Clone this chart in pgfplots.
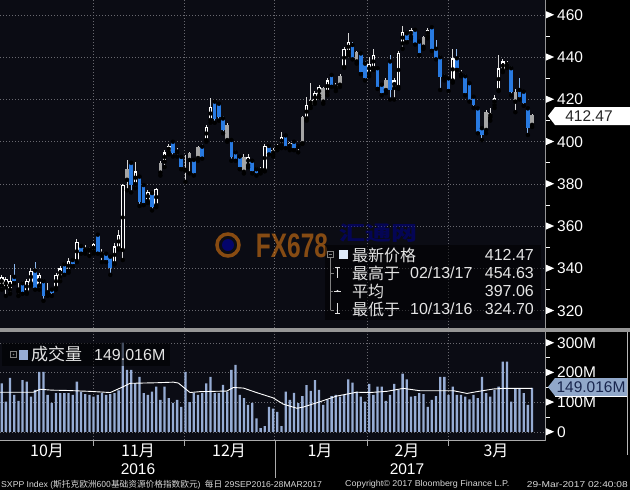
\documentclass[border=0pt]{standalone}
\usepackage{pgfplots}
\pgfplotsset{compat=1.18}
\usepackage{pgfplotstable}
\usepackage{fontspec}
\setmainfont{Liberation Sans}
\newfontfamily\cjk{Noto Sans CJK SC}
\definecolor{panelbg}{RGB}{11,12,20}
\definecolor{cblue}{RGB}{40,122,225}
\definecolor{cgray}{RGB}{165,165,165}
\definecolor{wick}{RGB}{215,215,215}
\definecolor{volbar}{RGB}{150,172,212}
\definecolor{gridc}{RGB}{105,105,112}
\definecolor{txt}{RGB}{228,228,228}
\definecolor{sepc}{RGB}{150,150,150}
\definecolor{tagblue}{RGB}{145,168,202}
\definecolor{tagtext}{RGB}{25,38,78}
\newcommand{\tri}{\tikz[baseline=-0.36em]\fill[white] (0,3.5pt)--(8pt,0)--(0,-3.5pt)--cycle;}

% candles: x = trading day index, o h l c
\pgfplotstableread{
x o h l c
0 332 337 330 336
1 331 336 327 335
2 330 337 328 334
4 329 333 327 331
6 329 335 328 334
7 333 340 332 339
9 332 338 330 337
11 328 333 327 329.5
13 331 338 330 337
14 336 341 334 340
16 339 345 338 343.6
18 343.6 354 343 352.6
20 348.5 351 347 349.5
21 348.5 350 346 349.5
22 348 352 347 351.5
24 346 349 343 348
27 342.5 352 342 350.5
28 349.6 358 349 356
29 348.8 380 344 379.5
32 380 390.6 378 386
35 372 377 371 376.4
37 370 378 369 377.6
39 390.6 396 388 395
40 395.3 399 394 398
42 395 397 393 395.8
44 386.4 393.7 381 387
49 400.8 408 400 407
50 410.3 420.7 409 416.4
59 389 394 388 393
62 386 388 385 387
63 386.6 399 386 398
65 394 397 393 396
66 397 399 396 398
67 398.5 404.8 397 402.4
69 397 400 396 399.5
71 397.5 399 395 398.5
73 411.1 421 410 417.4
74 417.4 427.8 416 419.8
75 419 424 418 423
76 422 427 421 426
78 423.7 430 422 429
80 425.3 428 424 427
82 435.5 445 435 444
83 442.6 451.5 441 447.4
88 432.5 440 431 437
89 435 444 434 441
94 425.5 430 420 429
95 426 443 425 442
96 446.6 454.63 444 452
98 450 454 449 453
102 450 454 449 453
106 430.5 432 429 431.5
108 429 444 428 439.5
110 431.6 434 431 433
117 411.7 416 410 413.6
118 417.4 422 416 420.6
119 424.5 441 424 434.8
120 434 439 433 438
121 436 438 435 437.5
}\W
\pgfplotstableread{
x o h l c
30 382 391.5 377 387
38 385.4 391 384 390
45 391.4 395 385 394.6
47 392.3 398 391 397.7
54 400.8 409 400 408
58 385.8 394 385 393
72 399.3 412 399 411.9
77 419 426 418 425.5
81 427 432 426 431
85 438 443 437 442.6
92 424.5 430 423 429
101 445 450 444 449.7
116 405.6 415 404 414.2
123 419 425 414 423.7
127 408 413 407 412.47
}\G
\pgfplotstableread{
x o h l c
3 336 342 333 334
5 333 334 328 329
8 339 343 330 331
10 334 335 324.7 327
12 330 331 327 328.5
15 342 343 337 338
17 344 345 341 342
19 350.6 351 347 347.7
23 356 357 347 348
25 347 348 343 344
26 345.6 346 337 340
31 390 391 376 379.5
33 383.5 384 369.6 371.6
34 379.5 380 370 371
36 375.7 376 367.5 369
41 400 401 393 394.5
43 392.8 393 387 388
46 391.4 392 384 385
48 397.7 399 392 393
51 419 419.5 409 411
52 418 418.5 410 411.6
53 411 412 404 405.6
55 400.8 401 391 392.8
56 395 396 391 392
57 393 393.5 387 388.2
60 391 392 385 386
61 387 388 384 385
64 398 399 394 394.5
68 403 403.5 397 397.7
70 400 401 396 397
79 431.6 432 426 427
84 445.8 447 439 439.5
86 441.8 442 432 433
87 437 438 429 430
90 434.8 435 425 426
91 427 428 422 423
93 438 441 420 424.5
97 451.3 452 447 448
99 453 454 446 446.6
100 447.4 448 441 441.9
103 454.2 454.4 443 444
104 444 448 439 439.5
105 440 441 424.5 430.8
107 430 431 424 425
109 439.5 444 434 434.8
111 431 432 422 423
112 427.7 428 419 419.8
113 421.3 422 416 417.4
114 415.8 416 404 404.8
115 406.4 407 400.8 403.2
122 434.8 436 422 423.7
124 424.5 430 420 421.3
125 423.7 424 417 418.2
126 415.8 416 403.2 406.4
}\B
% volume in millions
\pgfplotstableread{
x v
0 164
1 102
2 182
3 125
4 105
5 175
6 170
7 119
8 142
9 203
10 203
11 125
12 98
13 131
14 131
15 131
16 131
17 125
18 170
19 136
20 128
21 125
22 119
23 125
24 131
25 125
26 128
27 131
28 140
29 300
30 209
31 209
32 165
33 186
34 131
35 125
36 136
37 153
38 108
39 153
40 114
41 98
42 108
43 85
44 203
45 101
46 131
47 125
48 131
49 164
50 186
51 131
52 131
53 159
54 136
55 209
56 226
57 125
58 114
59 91
60 98
61 46
62 13
63 20
64 85
65 79
66 68
67 20
68 136
69 108
70 132
71 97
72 121
73 158
74 139
75 175
76 142
77 91
78 110
79 121
80 125
81 119
82 125
83 177
84 166
85 136
86 119
87 102
88 162
89 125
90 153
91 153
92 105
93 125
94 162
95 142
96 197
97 177
98 119
99 121
100 131
101 128
102 85
103 108
104 121
105 186
106 186
107 125
108 153
109 125
110 125
111 119
112 110
113 125
114 114
115 186
116 131
117 119
118 142
119 153
120 237
121 237
122 102
123 147
124 147
125 131
126 91
127 149
}\V

\pgfplotsset{
  wickp/.style={only marks, mark=none, forget plot,
    error bars/.cd, y dir=plus, y explicit, error mark=none,
    error bar style={color=#1, line width=0.9pt, line cap=butt}},
  bodyp/.style 2 args={only marks, mark=none, forget plot,
    error bars/.cd, y dir=both, y explicit, error mark=none,
    error bar style={color=#1, line width=#2, line cap=butt}},
  panel/.style={scale only axis, width=545pt, xmin=-0.41, xmax=130.1,
    axis background/.style={fill=panelbg},
    axis line style={draw=none},
    xtick={21.86,43.65,65.2,87.5,106.9}, xticklabel={},
    xmajorgrids, ymajorgrids,
    grid style={gridc, line width=0.6pt, dash pattern=on 1pt off 2pt},
    major tick length=0pt, minor tick length=5pt, tick align=outside,
    ytick pos=right, xtick pos=bottom, yticklabel pos=right,
    minor y tick style={white, line width=0.8pt},
    yticklabel style={anchor=west, inner sep=0pt, xshift=1pt, text=white,
      font=\fontsize{15.5}{16}\selectfont},
    /pgf/number format/assume math mode=true,
    clip=true},
}

\begin{document}
\begin{tikzpicture}
\fill[black] (0pt,0pt) rectangle (630pt,-490pt);

% ---------------- price panel ----------------
\begin{axis}[panel, at={(0pt,0pt)}, anchor=north west, height=328pt,
  ymin=311.83, ymax=467.1,
  ytick={320,340,...,460}, minor ytick={330,350,...,450},
  yticklabel={\tri\hspace{3pt}\pgfmathprintnumber{\tick}}]
% wicks
\addplot[wickp=wick] table[x=x, y=l, y error plus expr=\thisrow{h}-\thisrow{l}] {\W};
\addplot[wickp=wick] table[x=x, y=l, y error plus expr=\thisrow{h}-\thisrow{l}] {\G};
\addplot[wickp=cblue!55!white] table[x=x, y=l, y error plus expr=\thisrow{h}-\thisrow{l}] {\B};
% bodies
\addplot[bodyp={white}{3.6pt}] table[x=x, y=o,
  y error plus expr={max(\thisrow{c}-\thisrow{o},0)},
  y error minus expr={max(\thisrow{o}-\thisrow{c},0)}] {\W};
\addplot[bodyp={panelbg}{1.5pt}] table[x=x,
  y expr={(\thisrow{o}+\thisrow{c})/2},
  y error expr={max(abs(\thisrow{c}-\thisrow{o})/2-0.6,0)}] {\W};
\addplot[bodyp={cgray}{3.6pt}] table[x=x, y=o,
  y error plus expr={max(\thisrow{c}-\thisrow{o},0)},
  y error minus expr={max(\thisrow{o}-\thisrow{c},0)}] {\G};
\addplot[bodyp={cblue}{3.6pt}] table[x=x, y=o,
  y error plus expr={max(\thisrow{c}-\thisrow{o},0)},
  y error minus expr={max(\thisrow{o}-\thisrow{c},0)}] {\B};
\end{axis}

% ---------------- volume panel ----------------
\begin{axis}[panel, at={(0pt,-332pt)}, anchor=north west, height=108pt,
  ymin=-27, ymax=337,
  ytick={0,100,200,300}, minor ytick={50,150,250},
  yticklabels={{\tri\hspace{3pt}0},{\tri\hspace{3pt}100M},{\tri\hspace{3pt}200M},{\tri\hspace{3pt}300M}}]
\addplot[ybar, bar width=2.3pt, fill=volbar, draw=none, forget plot] table[x=x, y=v] {\V};
\addplot[white, line width=0.9pt, forget plot] coordinates {
(-0.4,134) (7.6,134) (9.2,144) (12,141) (15.6,140) (21,137) (26,133) (27.1,140)
(29,152) (30.7,164) (37.1,166) (41.1,168) (42.3,165) (43.6,150) (45.1,133)
(47.5,136) (53.9,138) (55.5,150) (57.9,148) (61,133) (65,115) (67.4,94)
(70.7,80) (72.2,84) (76.2,102) (80.2,121) (85,134) (88.2,133) (92.2,137)
(96.2,147) (100.2,139) (108.2,139) (111.4,130) (113.8,136) (117.8,145)
(120.2,147) (127,147)};
\end{axis}

\begin{scope}[x=1pt, y=-1pt]
% separators and axis line
\fill[sepc] (0,328) rectangle (630,332);
\draw[sepc, line width=1.3pt] (545.5,0) -- (545.5,441);
\draw[sepc!80, line width=1pt] (0,440.5) -- (545,440.5);
\draw[sepc!70, line width=0.8pt] (627.5,332) -- (627.5,455);
\foreach \p in {93,184,367,448} \draw[sepc!80, line width=0.7pt] (\p,440) -- (\p,446);
\draw[sepc!80, line width=0.7pt] (275,440) -- (275,478);

% watermark
\begin{scope}[opacity=0.55]
\draw[orange!75!brown, line width=3.5pt] (228,245) circle (11);
\fill[blue!70!black] (228,245) circle (6);
\node[text=orange!70!brown, font=\bfseries\fontsize{34}{34}\selectfont] at (292,246) {\scalebox{0.72}[1]{FX678}};
\node[text=blue!55!black, font=\cjk\bfseries\fontsize{20}{20}\selectfont, anchor=south] at (378,246) {\scalebox{1.3}[1]{汇通网}};
\end{scope}

% price legend
\fill[black, opacity=0.5] (325,245) rectangle (541,320);
\draw[gray, line width=0.6pt] (327.5,251.5) rectangle (333.5,257.5);
\draw[gray, line width=0.6pt] (329,254.5) -- (332,254.5);
\draw[gray, line width=0.6pt] (330.5,257.5) -- (330.5,310) (330.5,273) -- (334,273) (330.5,291) -- (333,291) (330.5,310) -- (334,310);
\fill[white!85!cblue] (339,250) rectangle (348,259);
\draw[txt, line width=0.7pt] (337.5,267.5) -- (337.5,278) (335,267.5) -- (340,267.5);
\draw[txt, line width=0.7pt] (334,291) -- (341,291);
\fill[txt] (337.5,291) circle (1.2);
\draw[txt, line width=0.7pt] (337.5,303) -- (337.5,313.5) (335,313.5) -- (340,313.5);
\begin{scope}[every node/.style={text=txt, inner sep=0pt}]
\node[anchor=west, font=\cjk\fontsize{16}{16}\selectfont] at (352,255) {最新价格};
\node[anchor=west, font=\cjk\fontsize{16}{16}\selectfont] at (352,273) {最高于};
\node[anchor=west, font=\cjk\fontsize{16}{16}\selectfont] at (352,291) {平均};
\node[anchor=west, font=\cjk\fontsize{16}{16}\selectfont] at (352,309) {最低于};
\node[anchor=west, font=\fontsize{16}{16}\selectfont] at (410,273) {02/13/17};
\node[anchor=west, font=\fontsize{16}{16}\selectfont] at (410,309) {10/13/16};
\node[anchor=east, font=\fontsize{16}{16}\selectfont] at (534,255) {412.47};
\node[anchor=east, font=\fontsize{16}{16}\selectfont] at (534,273) {454.63};
\node[anchor=east, font=\fontsize{16}{16}\selectfont] at (534,291) {397.06};
\node[anchor=east, font=\fontsize{16}{16}\selectfont] at (534,309) {324.70};
\end{scope}

% volume legend
\fill[black, opacity=0.55] (2,343) rectangle (170,366);
\draw[gray, line width=0.6pt] (10.5,351.5) rectangle (16.5,357.5);
\fill[gray] (13.5,354.5) circle (0.9);
\fill[volbar] (19,349.5) rectangle (28,359.5);
\node[anchor=west, inner sep=0pt, text=txt, font=\cjk\fontsize{17}{17}\selectfont] at (31,354.5) {成交量};
\node[anchor=west, inner sep=0pt, text=txt, font=\fontsize{16}{16}\selectfont] at (94,354.5) {149.016M};

% last-value tags
\fill[white] (548,116) -- (555,107) -- (630,107) -- (630,125) -- (555,125) -- cycle;
\node[text=black!85, font=\fontsize{15.5}{16}\selectfont, inner sep=0pt] at (589,116.5) {412.47};
\fill[tagblue] (548,387) -- (555,378) -- (627,378) -- (627,396) -- (555,396) -- cycle;
\draw[white, line width=0.6pt] (555,396.5) -- (627,396.5);
\node[text=tagtext, font=\fontsize{15.5}{16}\selectfont, inner sep=0pt] at (591,387.5) {149.016M};

% month and year labels
\begin{scope}[every node/.style={text=white, inner sep=0pt, font=\cjk\fontsize{16}{16}\selectfont}]
\node at (47,451) {10月};
\node at (138,451) {11月};
\node at (229,451) {12月};
\node at (320,451) {1月};
\node at (407,451) {2月};
\node at (496,451) {3月};
\end{scope}
\node[text=white, inner sep=0pt, font=\fontsize{15.5}{16}\selectfont] at (138,469) {2016};
\node[text=white, inner sep=0pt, font=\fontsize{15.5}{16}\selectfont] at (407,469) {2017};

% footer
\begin{scope}[every node/.style={text=black!15, inner sep=0pt, font=\fontsize{8.5}{9}\selectfont}]
\node[anchor=west] at (1,484.5) {\scalebox{1.02}[1]{SXPP Index ({\cjk 斯托克欧洲600基础资源价格指数欧元})\enspace{\cjk 每日} 29SEP2016-28MAR2017}};
\node[anchor=west] at (345,484.5) {\scalebox{1.05}[1]{Copyright\textcopyright\ 2017 Bloomberg Finance L.P.}};
\node[anchor=east] at (628,484.5) {\scalebox{1.2}[1]{29-Mar-2017 02:40:08}};
\end{scope}
\end{scope}

\pgfresetboundingbox
\useasboundingbox (0pt,0pt) rectangle (630pt,-490pt);
\end{tikzpicture}
\end{document}
